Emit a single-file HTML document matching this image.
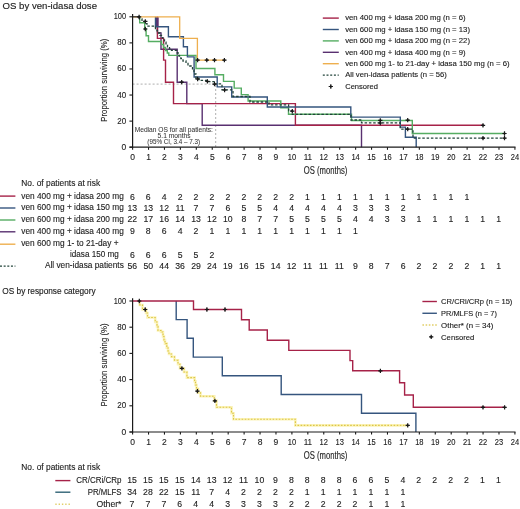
<!DOCTYPE html><html><head><meta charset="utf-8"><style>html,body{margin:0;padding:0;background:#fff;}body{width:520px;height:509px;overflow:hidden;}svg{display:block;will-change:transform;}text{font-family:"Liberation Sans",sans-serif;stroke:#1c1c1c;stroke-width:0.12px;}</style></head><body><svg width="520" height="509" viewBox="0 0 520 509" font-family="Liberation Sans, sans-serif">
<rect width="520" height="509" fill="#ffffff"/>
<text x="2.60" y="8.60" font-size="9.3" textLength="94.40" lengthAdjust="spacingAndGlyphs" fill="#1e1e1e" style="stroke-width:0.15px">OS by ven-idasa dose</text>
<path d="M132.6,84.1H215.7V147.2" fill="none" stroke="#9a9a9a" stroke-width="0.8" stroke-dasharray="2 2"/>
<text x="173.80" y="131.80" font-size="7.2" text-anchor="middle" textLength="78.20" lengthAdjust="spacingAndGlyphs" fill="#333" style="stroke-width:0.05px;stroke:#333">Median OS for all patients:</text>
<text x="174.10" y="138.20" font-size="7.2" text-anchor="middle" textLength="33.00" lengthAdjust="spacingAndGlyphs" fill="#333" style="stroke-width:0.05px;stroke:#333">5.1 months</text>
<text x="173.70" y="143.90" font-size="7.2" text-anchor="middle" textLength="52.80" lengthAdjust="spacingAndGlyphs" fill="#333" style="stroke-width:0.05px;stroke:#333">(95% CI, 3.4 – 7.3)</text>
<path d="M157.5,16.8V32.9H161V49.3H177.2V82.2H186.8V103.6H202.2V125.3H361.5V147.2" fill="none" stroke="#593070" stroke-width="1.4"/>
<path d="M157.4,16.8V38.4H163.6V60.1H165.5V82.2H173.5V103.6H295.4V125.3H483" fill="none" stroke="#a62248" stroke-width="1.4"/>
<rect x="155.6" y="17.2" width="3.0" height="8.8" fill="#593070"/>
<path d="M139.7,16.8V22.8H144.7V28.7H146.1V35.8H148.5V41.5H161.5V44.5H163.5V47.5H165.5V50.5H167.3V53H168.8V55.4H196V68.5H214.9V74.7H223.5V81.4H234.2V88.1H241.3V94.6H248.1V101H280.8V107.7H288.5V114.2H351.5V120.5H412.3V133.5H504.5" fill="none" stroke="#55ad62" stroke-width="1.4"/>
<path d="M155.5,16.8V26.7H168.4V36.8H183.4V46.8H187.4V56.9H194.1V77.0H217.2V86.9H231.7V97.0H267.3V107.0H350.8V117.1H400.3V127.1H405.4V137.2H416.2V147.2" fill="none" stroke="#35557e" stroke-width="1.4"/>
<path d="M132.6,16.8H179.7V38.4H197.4V60.1H224.5" fill="none" stroke="#eeaf4e" stroke-width="1.3"/>
<path d="M139.5,16.8V19H142V21.4H145.3V23.7H147V26.2H155.5V28.5H157V30.8H158.5V33H160V35.3H161.5V37.6H163V39.9H164.5V42.2H166V44.5H167.5V46.8H169.5V48.6H171.5V50.4H177.3V53H179V56H180.8V58.5H183V61H186V63.5H188V66H192.5V70H194V74H196V78.5H199V80.4H207.3V81.6H215V83.9H222V89.8H233V96.5H250V102H269V104.8H288.6V110.8H292.3V114.4H351V120H361.5V122.8H400.3V129.2H413V138.2H504.5" fill="none" stroke="#22443a" stroke-width="1.3" stroke-dasharray="2.5 1.8"/>
<path d="M132.6,16.8H139.6" fill="none" stroke="#333" stroke-width="1.3"/>
<path d="M195.45,60.10H199.75M197.60,57.95V62.25" stroke="#1a1a1a" stroke-width="1.2" fill="none"/><rect x="196.60" y="59.10" width="2.0" height="2.0" fill="#1a1a1a" transform="rotate(45 197.60 60.10)"/>
<path d="M204.65,60.10H208.95M206.80,57.95V62.25" stroke="#1a1a1a" stroke-width="1.2" fill="none"/><rect x="205.80" y="59.10" width="2.0" height="2.0" fill="#1a1a1a" transform="rotate(45 206.80 60.10)"/>
<path d="M212.35,60.10H216.65M214.50,57.95V62.25" stroke="#1a1a1a" stroke-width="1.2" fill="none"/><rect x="213.50" y="59.10" width="2.0" height="2.0" fill="#1a1a1a" transform="rotate(45 214.50 60.10)"/>
<path d="M222.25,60.10H226.55M224.40,57.95V62.25" stroke="#1a1a1a" stroke-width="1.2" fill="none"/><rect x="223.40" y="59.10" width="2.0" height="2.0" fill="#1a1a1a" transform="rotate(45 224.40 60.10)"/>
<path d="M136.95,16.80H141.25M139.10,14.65V18.95" stroke="#1a1a1a" stroke-width="1.2" fill="none"/><rect x="138.10" y="15.80" width="2.0" height="2.0" fill="#1a1a1a" transform="rotate(45 139.10 16.80)"/>
<path d="M143.15,21.40H147.45M145.30,19.25V23.55" stroke="#1a1a1a" stroke-width="1.2" fill="none"/><rect x="144.30" y="20.40" width="2.0" height="2.0" fill="#1a1a1a" transform="rotate(45 145.30 21.40)"/>
<path d="M143.15,29.00H147.45M145.30,26.85V31.15" stroke="#1a1a1a" stroke-width="1.2" fill="none"/><rect x="144.30" y="28.00" width="2.0" height="2.0" fill="#1a1a1a" transform="rotate(45 145.30 29.00)"/>
<path d="M179.55,82.20H183.85M181.70,80.05V84.35" stroke="#1a1a1a" stroke-width="1.2" fill="none"/><rect x="180.70" y="81.20" width="2.0" height="2.0" fill="#1a1a1a" transform="rotate(45 181.70 82.20)"/>
<path d="M195.45,79.00H199.75M197.60,76.85V81.15" stroke="#1a1a1a" stroke-width="1.2" fill="none"/><rect x="196.60" y="78.00" width="2.0" height="2.0" fill="#1a1a1a" transform="rotate(45 197.60 79.00)"/>
<path d="M205.25,81.40H209.55M207.40,79.25V83.55" stroke="#1a1a1a" stroke-width="1.2" fill="none"/><rect x="206.40" y="80.40" width="2.0" height="2.0" fill="#1a1a1a" transform="rotate(45 207.40 81.40)"/>
<path d="M212.35,84.20H216.65M214.50,82.05V86.35" stroke="#1a1a1a" stroke-width="1.2" fill="none"/><rect x="213.50" y="83.20" width="2.0" height="2.0" fill="#1a1a1a" transform="rotate(45 214.50 84.20)"/>
<path d="M222.45,90.00H226.75M224.60,87.85V92.15" stroke="#1a1a1a" stroke-width="1.2" fill="none"/><rect x="223.60" y="89.00" width="2.0" height="2.0" fill="#1a1a1a" transform="rotate(45 224.60 90.00)"/>
<path d="M290.15,111.20H294.45M292.30,109.05V113.35" stroke="#1a1a1a" stroke-width="1.2" fill="none"/><rect x="291.30" y="110.20" width="2.0" height="2.0" fill="#1a1a1a" transform="rotate(45 292.30 111.20)"/>
<path d="M378.15,120.40H382.45M380.30,118.25V122.55" stroke="#1a1a1a" stroke-width="1.2" fill="none"/><rect x="379.30" y="119.40" width="2.0" height="2.0" fill="#1a1a1a" transform="rotate(45 380.30 120.40)"/>
<path d="M378.15,123.00H382.45M380.30,120.85V125.15" stroke="#1a1a1a" stroke-width="1.2" fill="none"/><rect x="379.30" y="122.00" width="2.0" height="2.0" fill="#1a1a1a" transform="rotate(45 380.30 123.00)"/>
<path d="M405.55,120.20H409.85M407.70,118.05V122.35" stroke="#1a1a1a" stroke-width="1.2" fill="none"/><rect x="406.70" y="119.20" width="2.0" height="2.0" fill="#1a1a1a" transform="rotate(45 407.70 120.20)"/>
<path d="M405.55,129.20H409.85M407.70,127.05V131.35" stroke="#1a1a1a" stroke-width="1.2" fill="none"/><rect x="406.70" y="128.20" width="2.0" height="2.0" fill="#1a1a1a" transform="rotate(45 407.70 129.20)"/>
<path d="M480.85,125.30H485.15M483.00,123.15V127.45" stroke="#1a1a1a" stroke-width="1.2" fill="none"/><rect x="482.00" y="124.30" width="2.0" height="2.0" fill="#1a1a1a" transform="rotate(45 483.00 125.30)"/>
<path d="M480.85,138.20H485.15M483.00,136.05V140.35" stroke="#1a1a1a" stroke-width="1.2" fill="none"/><rect x="482.00" y="137.20" width="2.0" height="2.0" fill="#1a1a1a" transform="rotate(45 483.00 138.20)"/>
<path d="M502.35,133.50H506.65M504.50,131.35V135.65" stroke="#1a1a1a" stroke-width="1.2" fill="none"/><rect x="503.50" y="132.50" width="2.0" height="2.0" fill="#1a1a1a" transform="rotate(45 504.50 133.50)"/>
<path d="M502.35,138.20H506.65M504.50,136.05V140.35" stroke="#1a1a1a" stroke-width="1.2" fill="none"/><rect x="503.50" y="137.20" width="2.0" height="2.0" fill="#1a1a1a" transform="rotate(45 504.50 138.20)"/>
<path d="M322.8,18.10H338.8" fill="none" stroke="#a62248" stroke-width="1.4"/>
<text x="345.20" y="20.40" font-size="7.5" textLength="120.40" lengthAdjust="spacingAndGlyphs" fill="#1c1c1c">ven 400 mg + idasa 200 mg (n = 6)</text>
<path d="M322.8,29.50H338.8" fill="none" stroke="#35557e" stroke-width="1.4"/>
<text x="345.20" y="31.80" font-size="7.5" textLength="124.80" lengthAdjust="spacingAndGlyphs" fill="#1c1c1c">ven 600 mg + idasa 150 mg (n = 13)</text>
<path d="M322.8,40.90H338.8" fill="none" stroke="#55ad62" stroke-width="1.4"/>
<text x="345.20" y="43.20" font-size="7.5" textLength="124.80" lengthAdjust="spacingAndGlyphs" fill="#1c1c1c">ven 600 mg + idasa 200 mg (n = 22)</text>
<path d="M322.8,52.30H338.8" fill="none" stroke="#593070" stroke-width="1.4"/>
<text x="345.20" y="54.60" font-size="7.5" textLength="120.40" lengthAdjust="spacingAndGlyphs" fill="#1c1c1c">ven 400 mg + idasa 400 mg (n = 9)</text>
<path d="M322.8,63.70H338.8" fill="none" stroke="#eeaf4e" stroke-width="1.4"/>
<text x="345.20" y="66.00" font-size="7.5" textLength="164.40" lengthAdjust="spacingAndGlyphs" fill="#1c1c1c">ven 600 mg 1- to 21-day + idasa 150 mg (n = 6)</text>
<path d="M322.8,75.10H338.8" fill="none" stroke="#22443a" stroke-width="1.2" stroke-dasharray="2 1.7"/>
<text x="345.20" y="77.40" font-size="7.5" textLength="101.70" lengthAdjust="spacingAndGlyphs" fill="#1c1c1c">All ven-idasa patients (n = 56)</text>
<path d="M328.65,86.50H332.95M330.80,84.35V88.65" stroke="#1a1a1a" stroke-width="1.2" fill="none"/><rect x="329.80" y="85.50" width="2.0" height="2.0" fill="#1a1a1a" transform="rotate(45 330.80 86.50)"/>
<text x="345.20" y="88.80" font-size="7.5" textLength="32.80" lengthAdjust="spacingAndGlyphs" fill="#1c1c1c">Censored</text>
<text x="21.30" y="186.00" font-size="8.6" textLength="78.80" lengthAdjust="spacingAndGlyphs" fill="#1c1c1c">No. of patients at risk</text>
<path d="M0,196.10H15.4" fill="none" stroke="#a62248" stroke-width="1.4"/>
<text x="21.30" y="198.60" font-size="8.6" textLength="102.50" lengthAdjust="spacingAndGlyphs" fill="#1c1c1c">ven 400 mg + idasa 200 mg</text>
<text x="132.30" y="199.80" font-size="8.7" text-anchor="middle" fill="#1c1c1c">6</text>
<text x="148.23" y="199.80" font-size="8.7" text-anchor="middle" fill="#1c1c1c">6</text>
<text x="164.16" y="199.80" font-size="8.7" text-anchor="middle" fill="#1c1c1c">4</text>
<text x="180.09" y="199.80" font-size="8.7" text-anchor="middle" fill="#1c1c1c">2</text>
<text x="196.02" y="199.80" font-size="8.7" text-anchor="middle" fill="#1c1c1c">2</text>
<text x="211.95" y="199.80" font-size="8.7" text-anchor="middle" fill="#1c1c1c">2</text>
<text x="227.88" y="199.80" font-size="8.7" text-anchor="middle" fill="#1c1c1c">2</text>
<text x="243.81" y="199.80" font-size="8.7" text-anchor="middle" fill="#1c1c1c">2</text>
<text x="259.74" y="199.80" font-size="8.7" text-anchor="middle" fill="#1c1c1c">2</text>
<text x="275.67" y="199.80" font-size="8.7" text-anchor="middle" fill="#1c1c1c">2</text>
<text x="291.60" y="199.80" font-size="8.7" text-anchor="middle" fill="#1c1c1c">2</text>
<text x="307.53" y="199.80" font-size="8.7" text-anchor="middle" fill="#1c1c1c">1</text>
<text x="323.46" y="199.80" font-size="8.7" text-anchor="middle" fill="#1c1c1c">1</text>
<text x="339.39" y="199.80" font-size="8.7" text-anchor="middle" fill="#1c1c1c">1</text>
<text x="355.32" y="199.80" font-size="8.7" text-anchor="middle" fill="#1c1c1c">1</text>
<text x="371.25" y="199.80" font-size="8.7" text-anchor="middle" fill="#1c1c1c">1</text>
<text x="387.18" y="199.80" font-size="8.7" text-anchor="middle" fill="#1c1c1c">1</text>
<text x="403.11" y="199.80" font-size="8.7" text-anchor="middle" fill="#1c1c1c">1</text>
<text x="419.04" y="199.80" font-size="8.7" text-anchor="middle" fill="#1c1c1c">1</text>
<text x="434.97" y="199.80" font-size="8.7" text-anchor="middle" fill="#1c1c1c">1</text>
<text x="450.90" y="199.80" font-size="8.7" text-anchor="middle" fill="#1c1c1c">1</text>
<text x="466.83" y="199.80" font-size="8.7" text-anchor="middle" fill="#1c1c1c">1</text>
<path d="M0,208.00H15.4" fill="none" stroke="#35557e" stroke-width="1.4"/>
<text x="21.30" y="210.40" font-size="8.6" textLength="102.50" lengthAdjust="spacingAndGlyphs" fill="#1c1c1c">ven 600 mg + idasa 150 mg</text>
<text x="132.30" y="210.50" font-size="8.7" text-anchor="middle" fill="#1c1c1c">13</text>
<text x="148.23" y="210.50" font-size="8.7" text-anchor="middle" fill="#1c1c1c">13</text>
<text x="164.16" y="210.50" font-size="8.7" text-anchor="middle" fill="#1c1c1c">12</text>
<text x="180.09" y="210.50" font-size="8.7" text-anchor="middle" fill="#1c1c1c">11</text>
<text x="196.02" y="210.50" font-size="8.7" text-anchor="middle" fill="#1c1c1c">7</text>
<text x="211.95" y="210.50" font-size="8.7" text-anchor="middle" fill="#1c1c1c">7</text>
<text x="227.88" y="210.50" font-size="8.7" text-anchor="middle" fill="#1c1c1c">6</text>
<text x="243.81" y="210.50" font-size="8.7" text-anchor="middle" fill="#1c1c1c">5</text>
<text x="259.74" y="210.50" font-size="8.7" text-anchor="middle" fill="#1c1c1c">5</text>
<text x="275.67" y="210.50" font-size="8.7" text-anchor="middle" fill="#1c1c1c">4</text>
<text x="291.60" y="210.50" font-size="8.7" text-anchor="middle" fill="#1c1c1c">4</text>
<text x="307.53" y="210.50" font-size="8.7" text-anchor="middle" fill="#1c1c1c">4</text>
<text x="323.46" y="210.50" font-size="8.7" text-anchor="middle" fill="#1c1c1c">4</text>
<text x="339.39" y="210.50" font-size="8.7" text-anchor="middle" fill="#1c1c1c">4</text>
<text x="355.32" y="210.50" font-size="8.7" text-anchor="middle" fill="#1c1c1c">3</text>
<text x="371.25" y="210.50" font-size="8.7" text-anchor="middle" fill="#1c1c1c">3</text>
<text x="387.18" y="210.50" font-size="8.7" text-anchor="middle" fill="#1c1c1c">3</text>
<text x="403.11" y="210.50" font-size="8.7" text-anchor="middle" fill="#1c1c1c">2</text>
<path d="M0,220.00H15.4" fill="none" stroke="#55ad62" stroke-width="1.4"/>
<text x="21.30" y="222.30" font-size="8.6" textLength="102.50" lengthAdjust="spacingAndGlyphs" fill="#1c1c1c">ven 600 mg + idasa 200 mg</text>
<text x="132.30" y="222.40" font-size="8.7" text-anchor="middle" fill="#1c1c1c">22</text>
<text x="148.23" y="222.40" font-size="8.7" text-anchor="middle" fill="#1c1c1c">17</text>
<text x="164.16" y="222.40" font-size="8.7" text-anchor="middle" fill="#1c1c1c">16</text>
<text x="180.09" y="222.40" font-size="8.7" text-anchor="middle" fill="#1c1c1c">14</text>
<text x="196.02" y="222.40" font-size="8.7" text-anchor="middle" fill="#1c1c1c">13</text>
<text x="211.95" y="222.40" font-size="8.7" text-anchor="middle" fill="#1c1c1c">12</text>
<text x="227.88" y="222.40" font-size="8.7" text-anchor="middle" fill="#1c1c1c">10</text>
<text x="243.81" y="222.40" font-size="8.7" text-anchor="middle" fill="#1c1c1c">8</text>
<text x="259.74" y="222.40" font-size="8.7" text-anchor="middle" fill="#1c1c1c">7</text>
<text x="275.67" y="222.40" font-size="8.7" text-anchor="middle" fill="#1c1c1c">7</text>
<text x="291.60" y="222.40" font-size="8.7" text-anchor="middle" fill="#1c1c1c">5</text>
<text x="307.53" y="222.40" font-size="8.7" text-anchor="middle" fill="#1c1c1c">5</text>
<text x="323.46" y="222.40" font-size="8.7" text-anchor="middle" fill="#1c1c1c">5</text>
<text x="339.39" y="222.40" font-size="8.7" text-anchor="middle" fill="#1c1c1c">5</text>
<text x="355.32" y="222.40" font-size="8.7" text-anchor="middle" fill="#1c1c1c">4</text>
<text x="371.25" y="222.40" font-size="8.7" text-anchor="middle" fill="#1c1c1c">4</text>
<text x="387.18" y="222.40" font-size="8.7" text-anchor="middle" fill="#1c1c1c">3</text>
<text x="403.11" y="222.40" font-size="8.7" text-anchor="middle" fill="#1c1c1c">3</text>
<text x="419.04" y="222.40" font-size="8.7" text-anchor="middle" fill="#1c1c1c">1</text>
<text x="434.97" y="222.40" font-size="8.7" text-anchor="middle" fill="#1c1c1c">1</text>
<text x="450.90" y="222.40" font-size="8.7" text-anchor="middle" fill="#1c1c1c">1</text>
<text x="466.83" y="222.40" font-size="8.7" text-anchor="middle" fill="#1c1c1c">1</text>
<text x="482.76" y="222.40" font-size="8.7" text-anchor="middle" fill="#1c1c1c">1</text>
<text x="498.69" y="222.40" font-size="8.7" text-anchor="middle" fill="#1c1c1c">1</text>
<path d="M0,231.80H15.4" fill="none" stroke="#593070" stroke-width="1.4"/>
<text x="21.30" y="234.20" font-size="8.6" textLength="102.50" lengthAdjust="spacingAndGlyphs" fill="#1c1c1c">ven 400 mg + idasa 400 mg</text>
<text x="132.30" y="234.40" font-size="8.7" text-anchor="middle" fill="#1c1c1c">9</text>
<text x="148.23" y="234.40" font-size="8.7" text-anchor="middle" fill="#1c1c1c">8</text>
<text x="164.16" y="234.40" font-size="8.7" text-anchor="middle" fill="#1c1c1c">6</text>
<text x="180.09" y="234.40" font-size="8.7" text-anchor="middle" fill="#1c1c1c">4</text>
<text x="196.02" y="234.40" font-size="8.7" text-anchor="middle" fill="#1c1c1c">2</text>
<text x="211.95" y="234.40" font-size="8.7" text-anchor="middle" fill="#1c1c1c">1</text>
<text x="227.88" y="234.40" font-size="8.7" text-anchor="middle" fill="#1c1c1c">1</text>
<text x="243.81" y="234.40" font-size="8.7" text-anchor="middle" fill="#1c1c1c">1</text>
<text x="259.74" y="234.40" font-size="8.7" text-anchor="middle" fill="#1c1c1c">1</text>
<text x="275.67" y="234.40" font-size="8.7" text-anchor="middle" fill="#1c1c1c">1</text>
<text x="291.60" y="234.40" font-size="8.7" text-anchor="middle" fill="#1c1c1c">1</text>
<text x="307.53" y="234.40" font-size="8.7" text-anchor="middle" fill="#1c1c1c">1</text>
<text x="323.46" y="234.40" font-size="8.7" text-anchor="middle" fill="#1c1c1c">1</text>
<text x="339.39" y="234.40" font-size="8.7" text-anchor="middle" fill="#1c1c1c">1</text>
<text x="355.32" y="234.40" font-size="8.7" text-anchor="middle" fill="#1c1c1c">1</text>
<path d="M0,244.20H15.4" fill="none" stroke="#eeaf4e" stroke-width="1.4"/>
<text x="21.20" y="246.40" font-size="8.6" textLength="97.30" lengthAdjust="spacingAndGlyphs" fill="#1c1c1c">ven 600 mg 1- to 21-day +</text>
<text x="70.00" y="257.20" font-size="8.6" textLength="48.80" lengthAdjust="spacingAndGlyphs" fill="#1c1c1c">idasa 150 mg</text>
<text x="132.30" y="257.90" font-size="8.7" text-anchor="middle" fill="#1c1c1c">6</text>
<text x="148.23" y="257.90" font-size="8.7" text-anchor="middle" fill="#1c1c1c">6</text>
<text x="164.16" y="257.90" font-size="8.7" text-anchor="middle" fill="#1c1c1c">6</text>
<text x="180.09" y="257.90" font-size="8.7" text-anchor="middle" fill="#1c1c1c">5</text>
<text x="196.02" y="257.90" font-size="8.7" text-anchor="middle" fill="#1c1c1c">5</text>
<text x="211.95" y="257.90" font-size="8.7" text-anchor="middle" fill="#1c1c1c">2</text>
<path d="M0,266.20H15.4" fill="none" stroke="#22443a" stroke-width="1.2" stroke-dasharray="2 1.65"/>
<text x="44.90" y="268.40" font-size="8.6" textLength="78.90" lengthAdjust="spacingAndGlyphs" fill="#1c1c1c">All ven-idasa patients</text>
<text x="132.30" y="268.70" font-size="8.7" text-anchor="middle" fill="#1c1c1c">56</text>
<text x="148.23" y="268.70" font-size="8.7" text-anchor="middle" fill="#1c1c1c">50</text>
<text x="164.16" y="268.70" font-size="8.7" text-anchor="middle" fill="#1c1c1c">44</text>
<text x="180.09" y="268.70" font-size="8.7" text-anchor="middle" fill="#1c1c1c">36</text>
<text x="196.02" y="268.70" font-size="8.7" text-anchor="middle" fill="#1c1c1c">29</text>
<text x="211.95" y="268.70" font-size="8.7" text-anchor="middle" fill="#1c1c1c">24</text>
<text x="227.88" y="268.70" font-size="8.7" text-anchor="middle" fill="#1c1c1c">19</text>
<text x="243.81" y="268.70" font-size="8.7" text-anchor="middle" fill="#1c1c1c">16</text>
<text x="259.74" y="268.70" font-size="8.7" text-anchor="middle" fill="#1c1c1c">15</text>
<text x="275.67" y="268.70" font-size="8.7" text-anchor="middle" fill="#1c1c1c">14</text>
<text x="291.60" y="268.70" font-size="8.7" text-anchor="middle" fill="#1c1c1c">12</text>
<text x="307.53" y="268.70" font-size="8.7" text-anchor="middle" fill="#1c1c1c">11</text>
<text x="323.46" y="268.70" font-size="8.7" text-anchor="middle" fill="#1c1c1c">11</text>
<text x="339.39" y="268.70" font-size="8.7" text-anchor="middle" fill="#1c1c1c">11</text>
<text x="355.32" y="268.70" font-size="8.7" text-anchor="middle" fill="#1c1c1c">9</text>
<text x="371.25" y="268.70" font-size="8.7" text-anchor="middle" fill="#1c1c1c">8</text>
<text x="387.18" y="268.70" font-size="8.7" text-anchor="middle" fill="#1c1c1c">7</text>
<text x="403.11" y="268.70" font-size="8.7" text-anchor="middle" fill="#1c1c1c">6</text>
<text x="419.04" y="268.70" font-size="8.7" text-anchor="middle" fill="#1c1c1c">2</text>
<text x="434.97" y="268.70" font-size="8.7" text-anchor="middle" fill="#1c1c1c">2</text>
<text x="450.90" y="268.70" font-size="8.7" text-anchor="middle" fill="#1c1c1c">2</text>
<text x="466.83" y="268.70" font-size="8.7" text-anchor="middle" fill="#1c1c1c">2</text>
<text x="482.76" y="268.70" font-size="8.7" text-anchor="middle" fill="#1c1c1c">1</text>
<text x="498.69" y="268.70" font-size="8.7" text-anchor="middle" fill="#1c1c1c">1</text>
<text x="2.30" y="293.80" font-size="9.0" textLength="93.30" lengthAdjust="spacingAndGlyphs" fill="#1e1e1e" style="stroke-width:0.15px">OS by response category</text>
<path d="M139.8,301V305H142.5V309.4H146V313H147.5V317.5H155.2V322H157V326.5H158V330.5H161V332H163V336.5H164V340H165V343.6H166.8V347.7H168V351H169V354H171.5V356.8H174.5V360.3H178V364.2H180V368.4H184V372H186.9V377.6H194.6V381.2H195.5V385H196.5V388.9H198V392.7H200.5V396.2H214.3V400.6H216.5V407.3H231.5V413.3H233.5V419.3H295.4V425.4H407.7" fill="none" stroke="#fbf3b8" stroke-width="2.6"/>
<path d="M139.8,301V305H142.5V309.4H146V313H147.5V317.5H155.2V322H157V326.5H158V330.5H161V332H163V336.5H164V340H165V343.6H166.8V347.7H168V351H169V354H171.5V356.8H174.5V360.3H178V364.2H180V368.4H184V372H186.9V377.6H194.6V381.2H195.5V385H196.5V388.9H198V392.7H200.5V396.2H214.3V400.6H216.5V407.3H231.5V413.3H233.5V419.3H295.4V425.4H407.7" fill="none" stroke="#dcc54a" stroke-width="1.1" stroke-dasharray="1.6 1.5"/>
<path d="M176.2,301V319.6H187.1V338.3H193.3V357.1H222.3V375.8H281.2V394.5H361.5V413.2H415.9V432" fill="none" stroke="#35557e" stroke-width="1.4"/>
<path d="M132.6,301H193.5V309.5H241.5V319.8H249.2V330H267.3V340.2H288.8V350.4H350V360.6H352.7V370.8H399.6V382.8H404.6V395H413.3V407.3H504.6" fill="none" stroke="#a62248" stroke-width="1.4"/>
<path d="M137.15,301.00H141.45M139.30,298.85V303.15" stroke="#1a1a1a" stroke-width="1.2" fill="none"/><rect x="138.30" y="300.00" width="2.0" height="2.0" fill="#1a1a1a" transform="rotate(45 139.30 301.00)"/>
<path d="M143.05,309.50H147.35M145.20,307.35V311.65" stroke="#1a1a1a" stroke-width="1.2" fill="none"/><rect x="144.20" y="308.50" width="2.0" height="2.0" fill="#1a1a1a" transform="rotate(45 145.20 309.50)"/>
<path d="M179.75,368.40H184.05M181.90,366.25V370.55" stroke="#1a1a1a" stroke-width="1.2" fill="none"/><rect x="180.90" y="367.40" width="2.0" height="2.0" fill="#1a1a1a" transform="rotate(45 181.90 368.40)"/>
<path d="M195.25,391.20H199.55M197.40,389.05V393.35" stroke="#1a1a1a" stroke-width="1.2" fill="none"/><rect x="196.40" y="390.20" width="2.0" height="2.0" fill="#1a1a1a" transform="rotate(45 197.40 391.20)"/>
<path d="M212.75,400.80H217.05M214.90,398.65V402.95" stroke="#1a1a1a" stroke-width="1.2" fill="none"/><rect x="213.90" y="399.80" width="2.0" height="2.0" fill="#1a1a1a" transform="rotate(45 214.90 400.80)"/>
<path d="M405.55,425.40H409.85M407.70,423.25V427.55" stroke="#1a1a1a" stroke-width="1.2" fill="none"/><rect x="406.70" y="424.40" width="2.0" height="2.0" fill="#1a1a1a" transform="rotate(45 407.70 425.40)"/>
<path d="M204.75,309.50H209.05M206.90,307.35V311.65" stroke="#1a1a1a" stroke-width="1.2" fill="none"/><rect x="205.90" y="308.50" width="2.0" height="2.0" fill="#1a1a1a" transform="rotate(45 206.90 309.50)"/>
<path d="M222.85,309.50H227.15M225.00,307.35V311.65" stroke="#1a1a1a" stroke-width="1.2" fill="none"/><rect x="224.00" y="308.50" width="2.0" height="2.0" fill="#1a1a1a" transform="rotate(45 225.00 309.50)"/>
<path d="M378.25,370.80H382.55M380.40,368.65V372.95" stroke="#1a1a1a" stroke-width="1.2" fill="none"/><rect x="379.40" y="369.80" width="2.0" height="2.0" fill="#1a1a1a" transform="rotate(45 380.40 370.80)"/>
<path d="M480.85,407.30H485.15M483.00,405.15V409.45" stroke="#1a1a1a" stroke-width="1.2" fill="none"/><rect x="482.00" y="406.30" width="2.0" height="2.0" fill="#1a1a1a" transform="rotate(45 483.00 407.30)"/>
<path d="M502.45,407.30H506.75M504.60,405.15V409.45" stroke="#1a1a1a" stroke-width="1.2" fill="none"/><rect x="503.60" y="406.30" width="2.0" height="2.0" fill="#1a1a1a" transform="rotate(45 504.60 407.30)"/>
<path d="M422.4,301.50H436.9" fill="none" stroke="#a62248" stroke-width="1.4"/>
<text x="441.10" y="304.20" font-size="7.6" textLength="71.30" lengthAdjust="spacingAndGlyphs" fill="#1c1c1c">CR/CRi/CRp (n = 15)</text>
<path d="M422.4,313.27H436.9" fill="none" stroke="#35557e" stroke-width="1.4"/>
<text x="441.10" y="315.97" font-size="7.6" textLength="55.80" lengthAdjust="spacingAndGlyphs" fill="#1c1c1c">PR/MLFS (n = 7)</text>
<path d="M422.4,325.04H436.9" fill="none" stroke="#e2cf6a" stroke-width="1.4" stroke-dasharray="1.6 1.6"/>
<text x="441.10" y="327.74" font-size="7.6" textLength="52.40" lengthAdjust="spacingAndGlyphs" fill="#1c1c1c">Other* (n = 34)</text>
<path d="M429.05,336.80H433.35M431.20,334.65V338.95" stroke="#1a1a1a" stroke-width="1.2" fill="none"/><rect x="430.20" y="335.80" width="2.0" height="2.0" fill="#1a1a1a" transform="rotate(45 431.20 336.80)"/>
<text x="441.10" y="339.50" font-size="7.6" textLength="33.20" lengthAdjust="spacingAndGlyphs" fill="#1c1c1c">Censored</text>
<text x="21.30" y="470.40" font-size="8.6" textLength="78.80" lengthAdjust="spacingAndGlyphs" fill="#1c1c1c">No. of patients at risk</text>
<path d="M55.3,480.60H70.4" fill="none" stroke="#a62248" stroke-width="1.4"/>
<text x="76.30" y="483.00" font-size="8.6" textLength="45.20" lengthAdjust="spacingAndGlyphs" fill="#1c1c1c">CR/CRi/CRp</text>
<text x="132.00" y="483.00" font-size="8.7" text-anchor="middle" fill="#1c1c1c">15</text>
<text x="147.93" y="483.00" font-size="8.7" text-anchor="middle" fill="#1c1c1c">15</text>
<text x="163.86" y="483.00" font-size="8.7" text-anchor="middle" fill="#1c1c1c">15</text>
<text x="179.79" y="483.00" font-size="8.7" text-anchor="middle" fill="#1c1c1c">15</text>
<text x="195.72" y="483.00" font-size="8.7" text-anchor="middle" fill="#1c1c1c">14</text>
<text x="211.65" y="483.00" font-size="8.7" text-anchor="middle" fill="#1c1c1c">13</text>
<text x="227.58" y="483.00" font-size="8.7" text-anchor="middle" fill="#1c1c1c">12</text>
<text x="243.51" y="483.00" font-size="8.7" text-anchor="middle" fill="#1c1c1c">11</text>
<text x="259.44" y="483.00" font-size="8.7" text-anchor="middle" fill="#1c1c1c">10</text>
<text x="275.37" y="483.00" font-size="8.7" text-anchor="middle" fill="#1c1c1c">9</text>
<text x="291.30" y="483.00" font-size="8.7" text-anchor="middle" fill="#1c1c1c">8</text>
<text x="307.23" y="483.00" font-size="8.7" text-anchor="middle" fill="#1c1c1c">8</text>
<text x="323.16" y="483.00" font-size="8.7" text-anchor="middle" fill="#1c1c1c">8</text>
<text x="339.09" y="483.00" font-size="8.7" text-anchor="middle" fill="#1c1c1c">8</text>
<text x="355.02" y="483.00" font-size="8.7" text-anchor="middle" fill="#1c1c1c">6</text>
<text x="370.95" y="483.00" font-size="8.7" text-anchor="middle" fill="#1c1c1c">6</text>
<text x="386.88" y="483.00" font-size="8.7" text-anchor="middle" fill="#1c1c1c">5</text>
<text x="402.81" y="483.00" font-size="8.7" text-anchor="middle" fill="#1c1c1c">4</text>
<text x="418.74" y="483.00" font-size="8.7" text-anchor="middle" fill="#1c1c1c">2</text>
<text x="434.67" y="483.00" font-size="8.7" text-anchor="middle" fill="#1c1c1c">2</text>
<text x="450.60" y="483.00" font-size="8.7" text-anchor="middle" fill="#1c1c1c">2</text>
<text x="466.53" y="483.00" font-size="8.7" text-anchor="middle" fill="#1c1c1c">2</text>
<text x="482.46" y="483.00" font-size="8.7" text-anchor="middle" fill="#1c1c1c">1</text>
<text x="498.39" y="483.00" font-size="8.7" text-anchor="middle" fill="#1c1c1c">1</text>
<path d="M55.3,492.20H70.4" fill="none" stroke="#2f6275" stroke-width="1.4"/>
<text x="87.70" y="494.70" font-size="8.6" textLength="33.80" lengthAdjust="spacingAndGlyphs" fill="#1c1c1c">PR/MLFS</text>
<text x="132.00" y="494.70" font-size="8.7" text-anchor="middle" fill="#1c1c1c">34</text>
<text x="147.93" y="494.70" font-size="8.7" text-anchor="middle" fill="#1c1c1c">28</text>
<text x="163.86" y="494.70" font-size="8.7" text-anchor="middle" fill="#1c1c1c">22</text>
<text x="179.79" y="494.70" font-size="8.7" text-anchor="middle" fill="#1c1c1c">15</text>
<text x="195.72" y="494.70" font-size="8.7" text-anchor="middle" fill="#1c1c1c">11</text>
<text x="211.65" y="494.70" font-size="8.7" text-anchor="middle" fill="#1c1c1c">7</text>
<text x="227.58" y="494.70" font-size="8.7" text-anchor="middle" fill="#1c1c1c">4</text>
<text x="243.51" y="494.70" font-size="8.7" text-anchor="middle" fill="#1c1c1c">2</text>
<text x="259.44" y="494.70" font-size="8.7" text-anchor="middle" fill="#1c1c1c">2</text>
<text x="275.37" y="494.70" font-size="8.7" text-anchor="middle" fill="#1c1c1c">2</text>
<text x="291.30" y="494.70" font-size="8.7" text-anchor="middle" fill="#1c1c1c">2</text>
<text x="307.23" y="494.70" font-size="8.7" text-anchor="middle" fill="#1c1c1c">1</text>
<text x="323.16" y="494.70" font-size="8.7" text-anchor="middle" fill="#1c1c1c">1</text>
<text x="339.09" y="494.70" font-size="8.7" text-anchor="middle" fill="#1c1c1c">1</text>
<text x="355.02" y="494.70" font-size="8.7" text-anchor="middle" fill="#1c1c1c">1</text>
<text x="370.95" y="494.70" font-size="8.7" text-anchor="middle" fill="#1c1c1c">1</text>
<text x="386.88" y="494.70" font-size="8.7" text-anchor="middle" fill="#1c1c1c">1</text>
<text x="402.81" y="494.70" font-size="8.7" text-anchor="middle" fill="#1c1c1c">1</text>
<path d="M55.3,504.20H70.4" fill="none" stroke="#e2cf6a" stroke-width="1.4" stroke-dasharray="1.4 1.9"/>
<text x="96.40" y="506.70" font-size="8.6" textLength="25.10" lengthAdjust="spacingAndGlyphs" fill="#1c1c1c">Other*</text>
<text x="132.00" y="506.70" font-size="8.7" text-anchor="middle" fill="#1c1c1c">7</text>
<text x="147.93" y="506.70" font-size="8.7" text-anchor="middle" fill="#1c1c1c">7</text>
<text x="163.86" y="506.70" font-size="8.7" text-anchor="middle" fill="#1c1c1c">7</text>
<text x="179.79" y="506.70" font-size="8.7" text-anchor="middle" fill="#1c1c1c">6</text>
<text x="195.72" y="506.70" font-size="8.7" text-anchor="middle" fill="#1c1c1c">4</text>
<text x="211.65" y="506.70" font-size="8.7" text-anchor="middle" fill="#1c1c1c">4</text>
<text x="227.58" y="506.70" font-size="8.7" text-anchor="middle" fill="#1c1c1c">3</text>
<text x="243.51" y="506.70" font-size="8.7" text-anchor="middle" fill="#1c1c1c">3</text>
<text x="259.44" y="506.70" font-size="8.7" text-anchor="middle" fill="#1c1c1c">3</text>
<text x="275.37" y="506.70" font-size="8.7" text-anchor="middle" fill="#1c1c1c">3</text>
<text x="291.30" y="506.70" font-size="8.7" text-anchor="middle" fill="#1c1c1c">2</text>
<text x="307.23" y="506.70" font-size="8.7" text-anchor="middle" fill="#1c1c1c">2</text>
<text x="323.16" y="506.70" font-size="8.7" text-anchor="middle" fill="#1c1c1c">2</text>
<text x="339.09" y="506.70" font-size="8.7" text-anchor="middle" fill="#1c1c1c">2</text>
<text x="355.02" y="506.70" font-size="8.7" text-anchor="middle" fill="#1c1c1c">2</text>
<text x="370.95" y="506.70" font-size="8.7" text-anchor="middle" fill="#1c1c1c">1</text>
<text x="386.88" y="506.70" font-size="8.7" text-anchor="middle" fill="#1c1c1c">1</text>
<text x="402.81" y="506.70" font-size="8.7" text-anchor="middle" fill="#1c1c1c">1</text>
<path d="M132.6,14.00V147.80" stroke="#1a1a1a" stroke-width="1.2"/>
<path d="M129.5,147.20H515.52" stroke="#1a1a1a" stroke-width="1.2"/>
<path d="M129.4,147.20H132.6" stroke="#1a1a1a" stroke-width="1.1"/>
<text x="126.10" y="149.70" font-size="8.7" text-anchor="end" textLength="4.70" lengthAdjust="spacingAndGlyphs" fill="#1c1c1c">0</text>
<path d="M129.4,121.12H132.6" stroke="#1a1a1a" stroke-width="1.1"/>
<text x="126.10" y="123.62" font-size="8.7" text-anchor="end" textLength="8.90" lengthAdjust="spacingAndGlyphs" fill="#1c1c1c">20</text>
<path d="M129.4,95.04H132.6" stroke="#1a1a1a" stroke-width="1.1"/>
<text x="126.10" y="97.54" font-size="8.7" text-anchor="end" textLength="8.90" lengthAdjust="spacingAndGlyphs" fill="#1c1c1c">40</text>
<path d="M129.4,68.96H132.6" stroke="#1a1a1a" stroke-width="1.1"/>
<text x="126.10" y="71.46" font-size="8.7" text-anchor="end" textLength="8.90" lengthAdjust="spacingAndGlyphs" fill="#1c1c1c">60</text>
<path d="M129.4,42.88H132.6" stroke="#1a1a1a" stroke-width="1.1"/>
<text x="126.10" y="45.38" font-size="8.7" text-anchor="end" textLength="8.90" lengthAdjust="spacingAndGlyphs" fill="#1c1c1c">80</text>
<path d="M129.4,16.80H132.6" stroke="#1a1a1a" stroke-width="1.1"/>
<text x="126.10" y="19.30" font-size="8.7" text-anchor="end" textLength="12.40" lengthAdjust="spacingAndGlyphs" fill="#1c1c1c">100</text>
<path d="M132.60,147.20V149.80" stroke="#1a1a1a" stroke-width="1.1"/>
<text x="132.60" y="160.40" font-size="8.5" text-anchor="middle" fill="#1c1c1c">0</text>
<path d="M148.53,147.20V149.80" stroke="#1a1a1a" stroke-width="1.1"/>
<text x="148.53" y="160.40" font-size="8.5" text-anchor="middle" fill="#1c1c1c">1</text>
<path d="M164.46,147.20V149.80" stroke="#1a1a1a" stroke-width="1.1"/>
<text x="164.46" y="160.40" font-size="8.5" text-anchor="middle" fill="#1c1c1c">2</text>
<path d="M180.39,147.20V149.80" stroke="#1a1a1a" stroke-width="1.1"/>
<text x="180.39" y="160.40" font-size="8.5" text-anchor="middle" fill="#1c1c1c">3</text>
<path d="M196.32,147.20V149.80" stroke="#1a1a1a" stroke-width="1.1"/>
<text x="196.32" y="160.40" font-size="8.5" text-anchor="middle" fill="#1c1c1c">4</text>
<path d="M212.25,147.20V149.80" stroke="#1a1a1a" stroke-width="1.1"/>
<text x="212.25" y="160.40" font-size="8.5" text-anchor="middle" fill="#1c1c1c">5</text>
<path d="M228.18,147.20V149.80" stroke="#1a1a1a" stroke-width="1.1"/>
<text x="228.18" y="160.40" font-size="8.5" text-anchor="middle" fill="#1c1c1c">6</text>
<path d="M244.11,147.20V149.80" stroke="#1a1a1a" stroke-width="1.1"/>
<text x="244.11" y="160.40" font-size="8.5" text-anchor="middle" fill="#1c1c1c">7</text>
<path d="M260.04,147.20V149.80" stroke="#1a1a1a" stroke-width="1.1"/>
<text x="260.04" y="160.40" font-size="8.5" text-anchor="middle" fill="#1c1c1c">8</text>
<path d="M275.97,147.20V149.80" stroke="#1a1a1a" stroke-width="1.1"/>
<text x="275.97" y="160.40" font-size="8.5" text-anchor="middle" fill="#1c1c1c">9</text>
<path d="M291.90,147.20V149.80" stroke="#1a1a1a" stroke-width="1.1"/>
<text x="291.90" y="160.40" font-size="8.5" text-anchor="middle" textLength="8.40" lengthAdjust="spacingAndGlyphs" fill="#1c1c1c">10</text>
<path d="M307.83,147.20V149.80" stroke="#1a1a1a" stroke-width="1.1"/>
<text x="307.83" y="160.40" font-size="8.5" text-anchor="middle" textLength="8.40" lengthAdjust="spacingAndGlyphs" fill="#1c1c1c">11</text>
<path d="M323.76,147.20V149.80" stroke="#1a1a1a" stroke-width="1.1"/>
<text x="323.76" y="160.40" font-size="8.5" text-anchor="middle" textLength="8.40" lengthAdjust="spacingAndGlyphs" fill="#1c1c1c">12</text>
<path d="M339.69,147.20V149.80" stroke="#1a1a1a" stroke-width="1.1"/>
<text x="339.69" y="160.40" font-size="8.5" text-anchor="middle" textLength="8.40" lengthAdjust="spacingAndGlyphs" fill="#1c1c1c">13</text>
<path d="M355.62,147.20V149.80" stroke="#1a1a1a" stroke-width="1.1"/>
<text x="355.62" y="160.40" font-size="8.5" text-anchor="middle" textLength="8.40" lengthAdjust="spacingAndGlyphs" fill="#1c1c1c">14</text>
<path d="M371.55,147.20V149.80" stroke="#1a1a1a" stroke-width="1.1"/>
<text x="371.55" y="160.40" font-size="8.5" text-anchor="middle" textLength="8.40" lengthAdjust="spacingAndGlyphs" fill="#1c1c1c">15</text>
<path d="M387.48,147.20V149.80" stroke="#1a1a1a" stroke-width="1.1"/>
<text x="387.48" y="160.40" font-size="8.5" text-anchor="middle" textLength="8.40" lengthAdjust="spacingAndGlyphs" fill="#1c1c1c">16</text>
<path d="M403.41,147.20V149.80" stroke="#1a1a1a" stroke-width="1.1"/>
<text x="403.41" y="160.40" font-size="8.5" text-anchor="middle" textLength="8.40" lengthAdjust="spacingAndGlyphs" fill="#1c1c1c">17</text>
<path d="M419.34,147.20V149.80" stroke="#1a1a1a" stroke-width="1.1"/>
<text x="419.34" y="160.40" font-size="8.5" text-anchor="middle" textLength="8.40" lengthAdjust="spacingAndGlyphs" fill="#1c1c1c">18</text>
<path d="M435.27,147.20V149.80" stroke="#1a1a1a" stroke-width="1.1"/>
<text x="435.27" y="160.40" font-size="8.5" text-anchor="middle" textLength="8.40" lengthAdjust="spacingAndGlyphs" fill="#1c1c1c">19</text>
<path d="M451.20,147.20V149.80" stroke="#1a1a1a" stroke-width="1.1"/>
<text x="451.20" y="160.40" font-size="8.5" text-anchor="middle" textLength="8.40" lengthAdjust="spacingAndGlyphs" fill="#1c1c1c">20</text>
<path d="M467.13,147.20V149.80" stroke="#1a1a1a" stroke-width="1.1"/>
<text x="467.13" y="160.40" font-size="8.5" text-anchor="middle" textLength="8.40" lengthAdjust="spacingAndGlyphs" fill="#1c1c1c">21</text>
<path d="M483.06,147.20V149.80" stroke="#1a1a1a" stroke-width="1.1"/>
<text x="483.06" y="160.40" font-size="8.5" text-anchor="middle" textLength="8.40" lengthAdjust="spacingAndGlyphs" fill="#1c1c1c">22</text>
<path d="M498.99,147.20V149.80" stroke="#1a1a1a" stroke-width="1.1"/>
<text x="498.99" y="160.40" font-size="8.5" text-anchor="middle" textLength="8.40" lengthAdjust="spacingAndGlyphs" fill="#1c1c1c">23</text>
<path d="M514.92,147.20V149.80" stroke="#1a1a1a" stroke-width="1.1"/>
<text x="514.92" y="160.40" font-size="8.5" text-anchor="middle" textLength="8.40" lengthAdjust="spacingAndGlyphs" fill="#1c1c1c">24</text>
<text x="303.80" y="174.30" font-size="10.2" textLength="43.60" lengthAdjust="spacingAndGlyphs" fill="#1c1c1c">OS (months)</text>
<text transform="translate(106.6,121.70) rotate(-90)" x="0" y="0" font-size="8.6" textLength="83" lengthAdjust="spacingAndGlyphs" fill="#1c1c1c">Proportion surviving (%)</text>
<path d="M132.6,298.20V432.60" stroke="#1a1a1a" stroke-width="1.2"/>
<path d="M129.5,432.00H515.52" stroke="#1a1a1a" stroke-width="1.2"/>
<path d="M129.4,432.00H132.6" stroke="#1a1a1a" stroke-width="1.1"/>
<text x="126.10" y="434.50" font-size="8.7" text-anchor="end" textLength="4.70" lengthAdjust="spacingAndGlyphs" fill="#1c1c1c">0</text>
<path d="M129.4,405.80H132.6" stroke="#1a1a1a" stroke-width="1.1"/>
<text x="126.10" y="408.30" font-size="8.7" text-anchor="end" textLength="8.90" lengthAdjust="spacingAndGlyphs" fill="#1c1c1c">20</text>
<path d="M129.4,379.60H132.6" stroke="#1a1a1a" stroke-width="1.1"/>
<text x="126.10" y="382.10" font-size="8.7" text-anchor="end" textLength="8.90" lengthAdjust="spacingAndGlyphs" fill="#1c1c1c">40</text>
<path d="M129.4,353.40H132.6" stroke="#1a1a1a" stroke-width="1.1"/>
<text x="126.10" y="355.90" font-size="8.7" text-anchor="end" textLength="8.90" lengthAdjust="spacingAndGlyphs" fill="#1c1c1c">60</text>
<path d="M129.4,327.20H132.6" stroke="#1a1a1a" stroke-width="1.1"/>
<text x="126.10" y="329.70" font-size="8.7" text-anchor="end" textLength="8.90" lengthAdjust="spacingAndGlyphs" fill="#1c1c1c">80</text>
<path d="M129.4,301.00H132.6" stroke="#1a1a1a" stroke-width="1.1"/>
<text x="126.10" y="303.50" font-size="8.7" text-anchor="end" textLength="12.40" lengthAdjust="spacingAndGlyphs" fill="#1c1c1c">100</text>
<path d="M132.60,432.00V434.60" stroke="#1a1a1a" stroke-width="1.1"/>
<text x="132.60" y="445.20" font-size="8.5" text-anchor="middle" fill="#1c1c1c">0</text>
<path d="M148.53,432.00V434.60" stroke="#1a1a1a" stroke-width="1.1"/>
<text x="148.53" y="445.20" font-size="8.5" text-anchor="middle" fill="#1c1c1c">1</text>
<path d="M164.46,432.00V434.60" stroke="#1a1a1a" stroke-width="1.1"/>
<text x="164.46" y="445.20" font-size="8.5" text-anchor="middle" fill="#1c1c1c">2</text>
<path d="M180.39,432.00V434.60" stroke="#1a1a1a" stroke-width="1.1"/>
<text x="180.39" y="445.20" font-size="8.5" text-anchor="middle" fill="#1c1c1c">3</text>
<path d="M196.32,432.00V434.60" stroke="#1a1a1a" stroke-width="1.1"/>
<text x="196.32" y="445.20" font-size="8.5" text-anchor="middle" fill="#1c1c1c">4</text>
<path d="M212.25,432.00V434.60" stroke="#1a1a1a" stroke-width="1.1"/>
<text x="212.25" y="445.20" font-size="8.5" text-anchor="middle" fill="#1c1c1c">5</text>
<path d="M228.18,432.00V434.60" stroke="#1a1a1a" stroke-width="1.1"/>
<text x="228.18" y="445.20" font-size="8.5" text-anchor="middle" fill="#1c1c1c">6</text>
<path d="M244.11,432.00V434.60" stroke="#1a1a1a" stroke-width="1.1"/>
<text x="244.11" y="445.20" font-size="8.5" text-anchor="middle" fill="#1c1c1c">7</text>
<path d="M260.04,432.00V434.60" stroke="#1a1a1a" stroke-width="1.1"/>
<text x="260.04" y="445.20" font-size="8.5" text-anchor="middle" fill="#1c1c1c">8</text>
<path d="M275.97,432.00V434.60" stroke="#1a1a1a" stroke-width="1.1"/>
<text x="275.97" y="445.20" font-size="8.5" text-anchor="middle" fill="#1c1c1c">9</text>
<path d="M291.90,432.00V434.60" stroke="#1a1a1a" stroke-width="1.1"/>
<text x="291.90" y="445.20" font-size="8.5" text-anchor="middle" textLength="8.40" lengthAdjust="spacingAndGlyphs" fill="#1c1c1c">10</text>
<path d="M307.83,432.00V434.60" stroke="#1a1a1a" stroke-width="1.1"/>
<text x="307.83" y="445.20" font-size="8.5" text-anchor="middle" textLength="8.40" lengthAdjust="spacingAndGlyphs" fill="#1c1c1c">11</text>
<path d="M323.76,432.00V434.60" stroke="#1a1a1a" stroke-width="1.1"/>
<text x="323.76" y="445.20" font-size="8.5" text-anchor="middle" textLength="8.40" lengthAdjust="spacingAndGlyphs" fill="#1c1c1c">12</text>
<path d="M339.69,432.00V434.60" stroke="#1a1a1a" stroke-width="1.1"/>
<text x="339.69" y="445.20" font-size="8.5" text-anchor="middle" textLength="8.40" lengthAdjust="spacingAndGlyphs" fill="#1c1c1c">13</text>
<path d="M355.62,432.00V434.60" stroke="#1a1a1a" stroke-width="1.1"/>
<text x="355.62" y="445.20" font-size="8.5" text-anchor="middle" textLength="8.40" lengthAdjust="spacingAndGlyphs" fill="#1c1c1c">14</text>
<path d="M371.55,432.00V434.60" stroke="#1a1a1a" stroke-width="1.1"/>
<text x="371.55" y="445.20" font-size="8.5" text-anchor="middle" textLength="8.40" lengthAdjust="spacingAndGlyphs" fill="#1c1c1c">15</text>
<path d="M387.48,432.00V434.60" stroke="#1a1a1a" stroke-width="1.1"/>
<text x="387.48" y="445.20" font-size="8.5" text-anchor="middle" textLength="8.40" lengthAdjust="spacingAndGlyphs" fill="#1c1c1c">16</text>
<path d="M403.41,432.00V434.60" stroke="#1a1a1a" stroke-width="1.1"/>
<text x="403.41" y="445.20" font-size="8.5" text-anchor="middle" textLength="8.40" lengthAdjust="spacingAndGlyphs" fill="#1c1c1c">17</text>
<path d="M419.34,432.00V434.60" stroke="#1a1a1a" stroke-width="1.1"/>
<text x="419.34" y="445.20" font-size="8.5" text-anchor="middle" textLength="8.40" lengthAdjust="spacingAndGlyphs" fill="#1c1c1c">18</text>
<path d="M435.27,432.00V434.60" stroke="#1a1a1a" stroke-width="1.1"/>
<text x="435.27" y="445.20" font-size="8.5" text-anchor="middle" textLength="8.40" lengthAdjust="spacingAndGlyphs" fill="#1c1c1c">19</text>
<path d="M451.20,432.00V434.60" stroke="#1a1a1a" stroke-width="1.1"/>
<text x="451.20" y="445.20" font-size="8.5" text-anchor="middle" textLength="8.40" lengthAdjust="spacingAndGlyphs" fill="#1c1c1c">20</text>
<path d="M467.13,432.00V434.60" stroke="#1a1a1a" stroke-width="1.1"/>
<text x="467.13" y="445.20" font-size="8.5" text-anchor="middle" textLength="8.40" lengthAdjust="spacingAndGlyphs" fill="#1c1c1c">21</text>
<path d="M483.06,432.00V434.60" stroke="#1a1a1a" stroke-width="1.1"/>
<text x="483.06" y="445.20" font-size="8.5" text-anchor="middle" textLength="8.40" lengthAdjust="spacingAndGlyphs" fill="#1c1c1c">22</text>
<path d="M498.99,432.00V434.60" stroke="#1a1a1a" stroke-width="1.1"/>
<text x="498.99" y="445.20" font-size="8.5" text-anchor="middle" textLength="8.40" lengthAdjust="spacingAndGlyphs" fill="#1c1c1c">23</text>
<path d="M514.92,432.00V434.60" stroke="#1a1a1a" stroke-width="1.1"/>
<text x="514.92" y="445.20" font-size="8.5" text-anchor="middle" textLength="8.40" lengthAdjust="spacingAndGlyphs" fill="#1c1c1c">24</text>
<text x="303.80" y="459.10" font-size="10.2" textLength="43.60" lengthAdjust="spacingAndGlyphs" fill="#1c1c1c">OS (months)</text>
<text transform="translate(106.6,406.50) rotate(-90)" x="0" y="0" font-size="8.6" textLength="83" lengthAdjust="spacingAndGlyphs" fill="#1c1c1c">Proportion surviving (%)</text>
</svg></body></html>
